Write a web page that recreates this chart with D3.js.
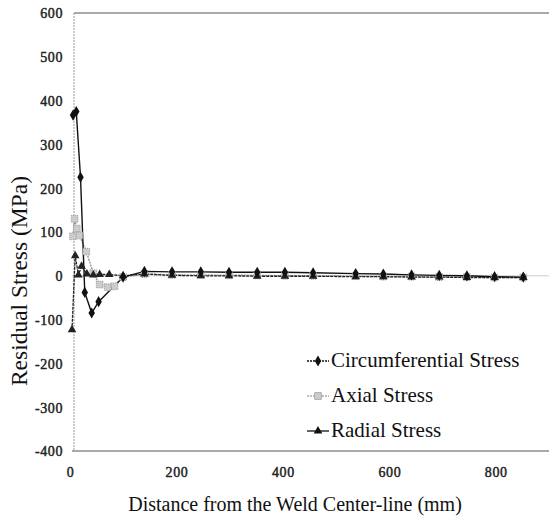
<!DOCTYPE html>
<html><head><meta charset="utf-8">
<script src="https://cdn.jsdelivr.net/npm/d3@7/dist/d3.min.js"></script>
<style>body{margin:0;background:#fff}svg{display:block}
text{font-family:"Liberation Serif","DejaVu Serif",serif}</style>
</head><body>
<script>
// ---- data ----
const xTicks = [0, 200, 400, 600, 800];
const yTicks = [600, 500, 400, 300, 200, 100, 0, -100, -200, -300, -400];
const circX = [2, 8, 16, 24, 37, 50, 96, 136, 188, 242, 295, 348, 400, 453, 533, 585, 638, 690, 742, 794, 848];
const circY = [367, 375, 225, -38, -85, -59, -3, 10, 9, 9, 8, 8, 8, 7, 5, 4, 2, 1, 0, -2, -3];
const axialX = [2, 5, 9, 14, 27, 40, 52, 67, 80, 96, 136, 188, 242, 295, 348, 400, 453, 533, 585, 638, 690, 742, 794, 848];
const axialY = [90, 130, 108, 92, 55, 6, -20, -26, -24, -3, 4, 2, 2, 1, 1, 0, 0, -1, -2, -2, -3, -3, -4, -4];
const radialX = [0, 6, 12, 18, 28, 40, 52, 70, 96, 136, 188, 242, 295, 348, 400, 453, 533, 585, 638, 690, 742, 794, 848];
const radialY = [-123, 46, 2, 22, 4, 2, 3, 3, 0, 4, 1, 0, 0, -1, -1, -1, -2, -2, -3, -3, -4, -4, -4];
const seriesNames = ["Circumferential Stress", "Axial Stress", "Radial Stress"];

const W = 549, H = 516;
const FONT = '"Liberation Serif","DejaVu Serif",serif';
const svg = d3.select("body").append("svg").attr("width", W).attr("height", H);
const x = d3.scaleLinear().domain([0, 900]).range([72, 551]);
const y = d3.scaleLinear().domain([-400, 600]).range([451, 13]);

// frame
svg.append("line").attr("x1", x(0) + 2).attr("x2", W).attr("y1", y(600)).attr("y2", y(600)).attr("stroke", "#555").attr("stroke-width", 1);
svg.append("line").attr("x1", x(0)).attr("x2", W).attr("y1", y(-400)).attr("y2", y(-400)).attr("stroke", "#555").attr("stroke-width", 1.2);
svg.append("line").attr("x1", x(0)).attr("x2", W).attr("y1", y(0)).attr("y2", y(0)).attr("stroke", "#ccc").attr("stroke-width", 1);
svg.append("line").attr("x1", x(0) + 2).attr("x2", x(0) + 2).attr("y1", y(600)).attr("y2", y(-400)).attr("stroke", "#999").attr("stroke-width", 1).attr("stroke-dasharray", "2,1");

const fmt = d => String(d);
function styleTicks(g) {
  g.select(".domain").remove();
  g.attr("font-family", FONT).attr("font-size", 14);
  g.selectAll("text").attr("font-family", FONT).attr("font-size", 14).attr("font-weight", "normal")
    .attr("fill", "#222").attr("stroke", "#222").attr("stroke-width", 0.45).attr("letter-spacing", "0.6px");
}
// y tick labels
const ya = svg.append("g").attr("transform", "translate(63,0)")
  .call(d3.axisLeft(y).tickValues(yTicks).tickSize(0).tickPadding(0).tickFormat(fmt));
styleTicks(ya);
ya.selectAll("text").attr("dy", "0.35em");

// x tick labels
const xa = svg.append("g").attr("transform", "translate(-2,467)")
  .call(d3.axisBottom(x).tickValues(xTicks).tickSize(0).tickPadding(0).tickFormat(fmt));
styleTicks(xa);

// titles
svg.append("text").attr("transform", "translate(27,281) rotate(-90)").attr("text-anchor", "middle")
  .attr("font-size", 23.5).attr("fill", "#111").text("Residual Stress (MPa)");
svg.append("text").attr("x", 295).attr("y", 511).attr("text-anchor", "middle")
  .attr("font-size", 20).attr("fill", "#111").text("Distance from the Weld Center-line (mm)");

// series
const line = d3.line().x(d => x(d[0])).y(d => y(d[1]));
const circ = d3.zip(circX, circY), axial = d3.zip(axialX, axialY), radial = d3.zip(radialX, radialY);
const diamond = d3.symbol().type(d3.symbolDiamond).size(36);
const square = d3.symbol().type(d3.symbolSquare).size(45);
const tri = d3.symbol().type(d3.symbolTriangle).size(32);

svg.append("path").datum(axial).attr("d", line).attr("fill", "none").attr("stroke", "#999").attr("stroke-width", 1.5).attr("stroke-dasharray", "2,1");
svg.append("path").datum(radial).attr("d", line).attr("fill", "none").attr("stroke", "#222").attr("stroke-width", 1.3).attr("stroke-dasharray", "3,1");
svg.append("path").datum(circ).attr("d", line).attr("fill", "none").attr("stroke", "#111").attr("stroke-width", 1.4);

svg.append("g").selectAll("path").data(axial).join("path").attr("d", square)
  .attr("transform", d => `translate(${x(d[0])},${y(d[1])})`).attr("fill", "#ccc").attr("stroke", "#999").attr("stroke-width", 1).attr("stroke-dasharray", "1,1");
svg.append("g").selectAll("path").data(radial).join("path").attr("d", tri)
  .attr("transform", d => `translate(${x(d[0])},${y(d[1])})`).attr("fill", "#222");
svg.append("g").selectAll("path").data(circ).join("path").attr("d", diamond)
  .attr("transform", d => `translate(${x(d[0])},${y(d[1])})`).attr("fill", "#111");

// legend
const leg = svg.append("g");
const legY = [361, 396, 431];
const styles = [
  {stroke: "#111", dash: "2,1", sym: diamond, fill: "#111"},
  {stroke: "#aaa", dash: "2,1", sym: square, fill: "#ccc"},
  {stroke: "#111", dash: null, sym: tri, fill: "#111"}
];
seriesNames.forEach((name, i) => {
  const s = styles[i];
  leg.append("line").attr("x1", 307).attr("x2", 329).attr("y1", legY[i]).attr("y2", legY[i])
    .attr("stroke", s.stroke).attr("stroke-width", 1.3).attr("stroke-dasharray", s.dash);
  leg.append("path").attr("d", s.sym).attr("transform", `translate(318,${legY[i]})`).attr("fill", s.fill)
    .attr("stroke", i === 1 ? "#aaa" : "none");
  leg.append("text").attr("x", 331).attr("y", legY[i] + 6).attr("font-size", 21)
    .attr("fill", "#111").text(name);
});
</script>
</body></html>
